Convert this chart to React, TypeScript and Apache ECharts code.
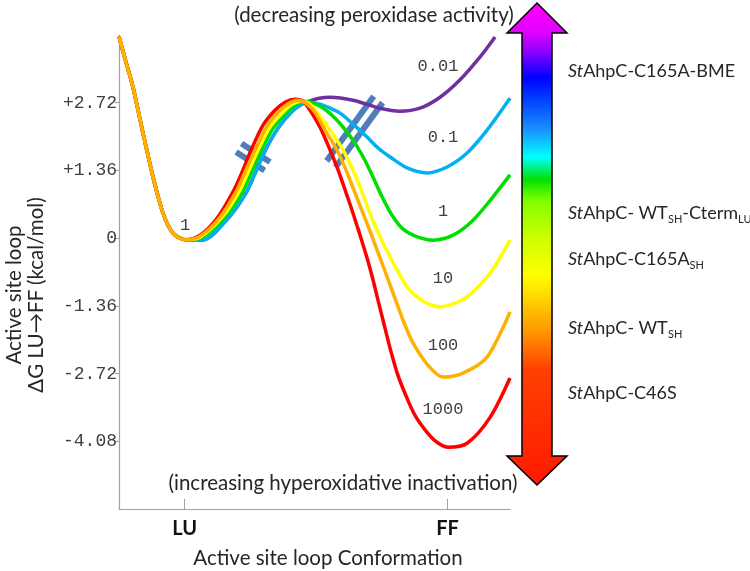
import React, { useEffect, useRef } from 'react';
import * as echarts from 'echarts';

// ---- axis ticks / labels ----
const yTickValues = [-4.08, -2.72, -1.36, 0, 1.36, 2.72];
const xTickValues = [1, 5];
const xTickLabels = ['LU', 'FF'];

// ---- curves (x: conformation coordinate, y: ΔG kcal/mol) ----
const sharedLU: [number, number][] = [
  [0, 4.05], [0.107, 3.53], [0.213, 3.03], [0.365, 2.11], [0.518, 1.23],
  [0.67, 0.5], [0.822, 0.1], [1.005, -0.03],
];
const k1000: [number, number][] = [
  [1.233, 0.06], [1.492, 0.4], [1.735, 0.93], [1.887, 1.37], [2.024, 1.81], [2.192, 2.27],
  [2.374, 2.57], [2.527, 2.73], [2.679, 2.79], [2.801, 2.75], [2.907, 2.57], [3.059, 2.23],
  [3.212, 1.77], [3.333, 1.37], [3.44, 0.97], [3.546, 0.56], [3.668, 0.06], [3.775, -0.4],
  [3.866, -0.84], [3.942, -1.25], [4.018, -1.65], [4.125, -2.21], [4.231, -2.7], [4.353, -3.12],
  [4.505, -3.56], [4.688, -3.9], [4.84, -4.1], [5.008, -4.2], [5.297, -4.12], [5.647, -3.6], [5.95, -2.81],
];
const k100: [number, number][] = [
  [1.233, 0.04], [1.537, 0.42], [1.781, 0.93], [1.933, 1.37], [2.085, 1.81], [2.253, 2.25],
  [2.435, 2.55], [2.588, 2.71], [2.725, 2.77], [2.846, 2.71], [2.983, 2.53], [3.135, 2.17],
  [3.318, 1.77], [3.44, 1.41], [3.562, 1.01], [3.683, 0.6], [3.82, 0.14], [3.973, -0.4],
  [4.125, -0.94], [4.247, -1.38], [4.353, -1.75], [4.475, -2.11], [4.688, -2.53], [4.932, -2.79],
  [5.236, -2.71], [5.601, -2.39], [5.95, -1.48],
];
const k10: [number, number][] = [
  [1.233, 0.02], [1.568, 0.42], [1.826, 0.93], [1.979, 1.37], [2.131, 1.81], [2.298, 2.23],
  [2.496, 2.53], [2.633, 2.69], [2.77, 2.75], [2.907, 2.69], [3.059, 2.45], [3.242, 2.11],
  [3.409, 1.77], [3.546, 1.41], [3.668, 1.03], [3.79, 0.6], [3.927, 0.16], [4.079, -0.26],
  [4.231, -0.64], [4.384, -0.98], [4.536, -1.18], [4.703, -1.32], [4.886, -1.38], [5.084, -1.32],
  [5.297, -1.18], [5.647, -0.7], [5.95, -0.04],
];
const k1: [number, number][] = [
  [1.233, 0.0], [1.598, 0.4], [1.872, 0.91], [2.024, 1.35], [2.176, 1.79], [2.344, 2.21],
  [2.557, 2.53], [2.694, 2.69], [2.816, 2.75], [3.059, 2.65], [3.288, 2.41], [3.516, 2.05],
  [3.699, 1.67], [3.851, 1.27], [4.003, 0.83], [4.155, 0.46], [4.323, 0.18], [4.551, 0.02],
  [4.779, -0.04], [5.084, 0.06], [5.388, 0.36], [5.692, 0.83], [5.95, 1.27],
];
const k01: [number, number][] = [
  [1.263, -0.04], [1.659, 0.4], [1.933, 0.91], [2.085, 1.35], [2.237, 1.79], [2.42, 2.21],
  [2.618, 2.53], [2.755, 2.67], [2.877, 2.73], [3.059, 2.69], [3.212, 2.61], [3.364, 2.51],
  [3.562, 2.29], [3.775, 2.03], [3.942, 1.81], [4.125, 1.63], [4.384, 1.41], [4.688, 1.31],
  [4.992, 1.43], [5.297, 1.71], [5.601, 2.17], [5.95, 2.81],
];
const k001: [number, number][] = [
  [1.263, -0.04], [1.659, 0.4], [1.933, 0.91], [2.085, 1.35], [2.237, 1.79], [2.42, 2.21],
  [2.618, 2.53], [2.755, 2.67], [2.877, 2.74], [3.05, 2.81], [3.212, 2.83], [3.562, 2.77],
  [3.973, 2.61], [4.277, 2.55], [4.581, 2.61], [4.886, 2.83], [5.19, 3.18], [5.495, 3.64], [5.723, 4.04],
];
const curveNames = ['0.01', '0.1', '1', '10', '1000', '100'];
const curveData = [k001, k01, k1, k10, k1000, k100];
const curveColors = ['#7030A0', '#00B0F0', '#00DD00', '#FFFF00', '#FF0000', '#FFB000'];

// ---- mutants next to the arrow ----
const mutantLabels = [
  '{i|St}{n|AhpC-C165A-BME}',
  '{i|St}{n|AhpC- WT}{s|SH}{n|-Cterm}{s|LU}',
  '{i|St}{n|AhpC-C165A}{s|SH}',
  '{i|St}{n|AhpC- WT}{s|SH}',
  '{i|St}{n|AhpC-C46S}',
];

export default function App() {
  const ref = useRef<HTMLDivElement>(null);
  useEffect(() => {
    const chart = echarts.init(ref.current!, null, { renderer: 'svg' });
    const series = curveData.map((d, i) => ({
      type: 'line',
      name: curveNames[i],
      data: [...sharedLU, ...d],
      smooth: 0.3,
      symbol: 'none',
      showSymbol: false,
      silent: true,
      lineStyle: { color: curveColors[i], width: 3.5 },
    }));
    chart.setOption({
      animation: false,
      grid: { left: 119, right: 240, top: 35, bottom: 62, containLabel: false },
      xAxis: {
        type: 'value',
        min: 0,
        max: 5.95,
        splitLine: { show: false },
        axisLine: { onZero: false, lineStyle: { color: '#a0a0a0', width: 1.2 } },
        axisTick: { customValues: xTickValues, inside: true, length: 10, lineStyle: { color: '#a0a0a0' } },
        axisLabel: {
          customValues: xTickValues,
          formatter: (v: number) => xTickLabels[xTickValues.indexOf(v)] ?? '',
          fontFamily: 'Lato',
          fontWeight: 'bold',
          fontSize: 20,
          color: '#111',
          margin: 8,
        },
      },
      yAxis: {
        type: 'value',
        min: -5.44,
        max: 4.08,
        interval: 1.36,
        splitLine: { show: false },
        axisLine: { show: true, onZero: false, lineStyle: { color: '#a0a0a0', width: 1.2 } },
        axisTick: { show: true, customValues: yTickValues, length: 4, lineStyle: { color: '#a0a0a0' } },
        axisLabel: {
          customValues: yTickValues,
          formatter: (v: number) => (Math.abs(v) < 1e-6 ? '0' : (v > 0 ? '+' : '') + v.toFixed(2)),
          fontFamily: 'Liberation Mono',
          fontSize: 18,
          color: '#404040',
          margin: 2,
        },
      },
      series,
    });

    const px = (x: number, y: number) => chart.convertToPixel({ gridIndex: 0 }, [x, y]) as number[];
    const elements: any[] = [];

    // break marks
    const breakMark = (x: number, y: number, deg: number, len: number, sep: number) => {
      const [cx, cy] = px(x, y);
      const t = 6;
      return {
        type: 'group',
        x: cx,
        y: cy,
        rotation: (deg * Math.PI) / 180,
        z: 50,
        children: [
          { type: 'rect', shape: { x: -len / 2 + 2, y: -sep / 2, width: len - 4, height: sep }, style: { fill: '#fff' } },
          { type: 'rect', shape: { x: -len / 2, y: -sep / 2 - t / 2, width: len, height: t }, style: { fill: '#4F7EBB' } },
          { type: 'rect', shape: { x: -len / 2, y: sep / 2 - t / 2, width: len, height: t }, style: { fill: '#4F7EBB' } },
        ],
      };
    };
    elements.push(breakMark(2.04, 1.63, -33, 34, 10));
    elements.push(breakMark(3.586, 2.137, 54, 80, 11));

    // curve labels
    const mono = { fontFamily: 'Liberation Mono', fontSize: 17, fill: '#404040', align: 'center', verticalAlign: 'middle' };
    const curveLabelPos: [string, number, number][] = [
      ['1', 185, 225], ['0.01', 438, 66], ['0.1', 443, 137], ['1', 443, 211],
      ['10', 443, 278], ['100', 443, 345], ['1000', 443, 409],
    ];
    curveLabelPos.forEach(([t, x, y]) =>
      elements.push({ type: 'text', x, y, z: 60, style: { ...mono, text: t } })
    );

    const sans = { fontFamily: 'Lato', fill: '#262626' };
    elements.push({ type: 'text', x: 374, y: 14, style: { ...sans, text: '(decreasing peroxidase activity)', fontSize: 20.5, align: 'center', verticalAlign: 'middle' } });
    elements.push({ type: 'text', x: 343, y: 482, style: { ...sans, text: '(increasing hyperoxidative inactivation)', fontSize: 20.5, align: 'center', verticalAlign: 'middle' } });
    elements.push({ type: 'text', x: 328, y: 557, style: { ...sans, text: 'Active site loop Conformation', fontSize: 20.5, align: 'center', verticalAlign: 'middle' } });
    elements.push({
      type: 'text', x: 24, y: 295, rotation: Math.PI / 2,
      style: { ...sans, text: 'Active site loop\nΔG LU→FF (kcal/mol)', fontSize: 20.5, lineHeight: 22, align: 'center', verticalAlign: 'middle' },
    });

    // gradient arrow
    const grad = new echarts.graphic.LinearGradient(0, 0, 0, 1, [
      { offset: 0.0, color: '#ff00ff' },
      { offset: 0.06, color: '#e000ff' },
      { offset: 0.1, color: '#9000ff' },
      { offset: 0.155, color: '#0000ff' },
      { offset: 0.2, color: '#0040ff' },
      { offset: 0.26, color: '#1a8cff' },
      { offset: 0.32, color: '#00ffff' },
      { offset: 0.366, color: '#00e000' },
      { offset: 0.41, color: '#80ff00' },
      { offset: 0.49, color: '#d0ff00' },
      { offset: 0.565, color: '#ffff00' },
      { offset: 0.68, color: '#ff9900' },
      { offset: 0.76, color: '#ff4000' },
      { offset: 1.0, color: '#ff1a00' },
    ]);
    elements.push({
      type: 'polygon',
      z: 40,
      shape: {
        points: [
          [537, 3], [567, 33], [552, 33], [552, 456], [567, 456], [537, 485],
          [507, 456], [522, 456], [522, 33], [507, 33],
        ],
      },
      style: { fill: grad, stroke: '#000', lineWidth: 1.5 },
    });

    const rich = {
      i: { fontFamily: 'Lato', fontStyle: 'italic', fontSize: 18, fill: '#262626', lineHeight: 24 },
      n: { fontFamily: 'Lato', fontSize: 18, fill: '#262626', lineHeight: 24 },
      s: { fontFamily: 'Lato', fontSize: 11, fill: '#262626', lineHeight: 14, verticalAlign: 'bottom' },
    };
    const mutantY = [70, 212, 258, 327, 392];
    mutantLabels.forEach((t, i) =>
      elements.push({ type: 'text', x: 568, y: mutantY[i], style: { text: t, rich, align: 'left', verticalAlign: 'middle' } })
    );

    chart.setOption({ graphic: elements });
    return () => chart.dispose();
  }, []);
  return <div ref={ref} style={{ position: 'fixed', left: 0, top: 0, width: 750, height: 571 }} />;
}
